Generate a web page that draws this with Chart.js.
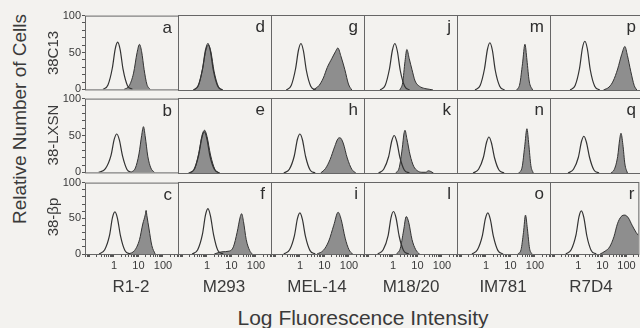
<!DOCTYPE html>
<html>
<head>
<meta charset="utf-8">
<script src="https://cdn.jsdelivr.net/npm/chart.js@4.4.0/dist/chart.umd.min.js"></script>
<style>
  body { margin:0; width:640px; height:328px; overflow:hidden; background:#f3f2ef; position:relative;
         font-family:"Liberation Sans", Arial, sans-serif; color:#3a3a3a; }
  canvas { position:absolute; }
  .lbl { position:absolute; white-space:nowrap; line-height:1; }
  .rot { transform:translate(-50%,-50%) rotate(-90deg); }
  .ctr { transform:translate(-50%,-50%); }
</style>
</head>
<body>
<script>
const rowNames = ['38C13', '38-LXSN', '38-\u03b2p'];
const colNames = ['R1-2', 'M293', 'MEL-14', 'M18/20', 'IM781', 'R7D4'];
const panelLetters = [
  ['a', 'd', 'g', 'j', 'm', 'p'],
  ['b', 'e', 'h', 'k', 'n', 'q'],
  ['c', 'f', 'i', 'l', 'o', 'r']
];
const xTicks = [0.07, 0.08, 0.09, 0.1, 0.2, 0.3, 0.4, 0.5, 0.6, 0.7, 0.8, 0.9,
  1, 2, 3, 4, 5, 6, 7, 8, 9, 10, 20, 30, 40, 50, 60, 70, 80, 90, 100, 200, 300, 400];
const xLabels = [1, 10, 100];
const yTicks = [0, 10, 20, 30, 40, 50, 60, 70, 80, 90, 100];
const yLabels = [0, 50, 100];

// histograms as [fluorescence, relative cells]; open = control, fill = stained
const aOpen = [[0.36,0],[0.57,6],[0.86,29],[1.13,55],[1.42,64],[1.79,54],[2.36,27],[3.57,5],[5.65,0]];
const aFill = [[2.6,0],[4.2,5],[6.3,22],[8.8,50],[11,61],[13.5,51],[17,27],[22,7],[30,0]];
const dOpen = [[0.28,0],[0.44,6],[0.66,28],[0.87,53],[1.1,62],[1.38,52],[1.83,26],[2.76,5],[4.38,0]];
const dFill = [[0.3,0],[0.45,6],[0.65,27],[0.9,53],[1.15,60],[1.45,51],[1.95,25],[2.9,5],[4.4,0]];
const gOpen = [[0.28,0],[0.44,6],[0.66,28],[0.87,53],[1.1,62],[1.39,52],[1.83,26],[2.76,5],[4.4,0]];
const gFill = [[3.4,0],[6,6],[9,16],[13,30],[20,42],[28,51],[35,56],[48,44],[68,27],[95,8],[130,0]];
const jOpen = [[0.3,0],[0.48,6],[0.72,28],[0.95,53],[1.2,62],[1.51,52],[1.99,26],[3.01,5],[4.78,0]];
const jFill = [[1.9,0],[2.5,10],[3.1,38],[3.7,54],[4.6,42],[6,27],[8,12],[12,5],[20,2],[30,1],[43,0]];
const mOpen = [[0.36,0],[0.58,6],[0.87,28],[1.15,54],[1.45,63],[1.83,53],[2.41,26],[3.64,5],[5.77,0]];
const mFill = [[18,0],[24,8],[31,35],[39,61],[47,40],[58,12],[80,0]];
const pOpen = [[0.44,0],[0.7,6],[1.06,29],[1.39,56],[1.75,65],[2.2,55],[2.9,27],[4.4,5],[7,0]];
const pFill = [[10,0],[17,4],[25,12],[38,28],[55,47],[75,58],[95,46],[130,25],[180,6],[230,0]];

const bOpen = [[0.24,0],[0.45,5],[0.76,23],[1.03,45],[1.3,52],[1.66,44],[2.25,22],[3.4,4],[5.2,0]];
const bFill = [[5,0],[7.5,6],[10.5,25],[13.5,50],[16,62],[19,48],[24,22],[32,6],[45,0]];
const eOpen = [[0.18,0],[0.3,5],[0.46,24],[0.62,47],[0.78,55],[0.99,46],[1.32,23],[2,5],[3.3,0]];
const eFill = [[0.2,0],[0.32,6],[0.46,26],[0.64,51],[0.8,57],[1,49],[1.4,24],[2.1,5],[3.2,0]];
const hOpen = [[0.22,0],[0.37,5],[0.59,23],[0.79,45],[1,52],[1.27,44],[1.7,22],[2.6,4],[4.2,0]];
const hFill = [[7,0],[11,6],[17,18],[26,35],[36,46],[43,47],[58,40],[85,20],[130,5],[190,0]];
const kOpen = [[0.26,0],[0.42,5],[0.67,22],[0.9,43],[1.13,50],[1.43,42],[1.92,21],[2.9,4],[4.7,0]];
const kFill = [[1.3,0],[1.8,7],[2.4,33],[2.8,52],[3.1,57],[3.7,46],[5,24],[7,9],[10,3],[15,1],[22,1],[28,3],[35,2],[45,0]];
const nOpen = [[0.3,0],[0.5,5],[0.79,21],[1.06,41],[1.33,48],[1.68,40],[2.25,20],[3.4,4],[5.5,0]];
const nFill = [[22,0],[30,8],[38,35],[47,59],[56,38],[68,10],[85,0]];
const qOpen = [[0.36,0],[0.6,5],[0.95,21],[1.27,42],[1.6,49],[2.02,41],[2.7,21],[4.1,4],[6.6,0]];
const qFill = [[20,0],[28,5],[38,22],[46,45],[52,53],[62,38],[75,12],[95,0]];

const cOpen = [[0.25,0],[0.42,6],[0.66,26],[0.87,51],[1.1,59],[1.39,50],[1.86,25],[2.8,5],[4.6,0]];
const cFill = [[4,0],[7,5],[11,20],[15,42],[19,55],[20.5,61],[22,54],[27,35],[35,12],[48,0]];
const fOpen = [[0.25,0],[0.42,6],[0.66,28],[0.87,54],[1.1,63],[1.39,53],[1.86,27],[2.8,5],[4.6,0]];
const fFill = [[2,0],[4,3],[8,4],[12,10],[17,30],[23,52],[26,56],[31,45],[40,20],[55,5],[70,0]];
const iOpen = [[0.22,0],[0.38,6],[0.6,26],[0.79,49],[1,57],[1.26,48],[1.69,24],[2.55,5],[4.2,0]];
const iFill = [[5,0],[9,5],[15,18],[24,40],[36,58],[48,48],[70,22],[100,6],[140,0]];
const lOpen = [[0.24,0],[0.4,6],[0.64,26],[0.84,51],[1.06,59],[1.34,50],[1.79,25],[2.7,5],[4.4,0]];
const lFill = [[1.4,0],[2,8],[2.7,32],[3.5,52],[4.4,44],[6,20],[8.5,6],[12,0]];
const oOpen = [[0.27,0],[0.45,6],[0.72,26],[0.95,49],[1.2,57],[1.51,48],[2.03,24],[3.05,5],[5,0]];
const oFill = [[20,0],[27,6],[34,30],[41,54],[49,35],[60,8],[75,0]];
const rOpen = [[0.3,0],[0.5,6],[0.8,27],[1.06,52],[1.33,60],[1.68,51],[2.25,25],[3.4,5],[5.5,0]];
const rFill = [[8,0],[13,4],[20,10],[30,24],[42,42],[60,52],[85,54],[120,50],[170,40],[250,30],[310,26]];

const curves = {
  a: [aOpen, aFill], d: [dOpen, dFill], g: [gOpen, gFill], j: [jOpen, jFill], m: [mOpen, mFill], p: [pOpen, pFill],
  b: [bOpen, bFill], e: [eOpen, eFill], h: [hOpen, hFill], k: [kOpen, kFill], n: [nOpen, nFill], q: [qOpen, qFill],
  c: [cOpen, cFill], f: [fOpen, fFill], i: [iOpen, iFill], l: [lOpen, lFill], o: [oOpen, oFill], r: [rOpen, rFill]
};

// panel boxes in page pixels; the last column is cut off by the page edge
const colLeft = [85, 178, 271, 364, 457, 550];
const colWidth = [93, 93, 93, 93, 93, 90];
const colMax = [410, 410, 410, 410, 410, 310];
const rowTop = [15, 98, 182];
const rowBottom = [90, 173, 254];
const FONT = '"Liberation Sans", Arial, sans-serif';
const INK = '#333';

const framePlugin = {
  id: 'frame',
  afterDatasetsDraw(chart, args, opts) {
    const { ctx, chartArea: a } = chart;
    ctx.save();
    ctx.strokeStyle = '#666';
    ctx.lineWidth = 1;
    ctx.strokeRect(a.left + 0.5, a.top + 0.5, a.right - a.left, a.bottom - a.top);
    ctx.fillStyle = '#2e2e2e';
    ctx.font = '17px ' + FONT;
    ctx.textAlign = 'right';
    ctx.fillText(opts.letter, opts.right ? a.right - 4 : a.right - 6, a.top + 17);
    ctx.restore();
  }
};

const pts = arr => arr.map(p => ({ x: p[0], y: p[1] }));

function addLabel(text, x, y, size, cls) {
  const d = document.createElement('div');
  d.className = 'lbl ' + cls;
  d.style.left = x + 'px';
  d.style.top = y + 'px';
  d.style.fontSize = size + 'px';
  d.textContent = text;
  document.body.appendChild(d);
}

for (let r = 0; r < 3; r++) {
  for (let c = 0; c < 6; c++) {
    const letter = panelLetters[r][c];
    const showY = c === 0, showX = r === 2;
    const last = c === 5;
    const padL = showY ? 32 : 2;
    const padR = last ? 0 : 2;
    const cv = document.createElement('canvas');
    cv.width = colWidth[c] + padL + padR;
    cv.height = (rowBottom[r] - rowTop[r]) + 7 + (showX ? 21 : 7);
    cv.style.left = (colLeft[c] - padL) + 'px';
    cv.style.top = (rowTop[r] - 7) + 'px';
    document.body.appendChild(cv);

    new Chart(cv, {
      type: 'line',
      data: {
        datasets: [
          { data: pts(curves[letter][0]), borderColor: INK, borderWidth: 1.2, fill: false,
            pointRadius: 0, cubicInterpolationMode: 'monotone' },
          { data: pts(curves[letter][1]), borderColor: INK, borderWidth: 1, backgroundColor: '#8e8e8e',
            fill: 'origin', pointRadius: 0, cubicInterpolationMode: 'monotone' }
        ]
      },
      options: {
        responsive: false,
        animation: false,
        devicePixelRatio: 1,
        layout: { autoPadding: false, padding: { left: 2, right: padR, top: 7, bottom: showX ? 1 : 7 } },
        plugins: { legend: { display: false }, tooltip: { enabled: false }, frame: { letter: letter, right: last } },
        scales: {
          x: {
            type: 'logarithmic', min: 0.066, max: colMax[c], display: showX,
            afterBuildTicks: s => { s.ticks = xTicks.filter(v => v <= colMax[c]).map(v => ({ value: v })); },
            afterFit: s => { if (showX) s.height = 20; },
            border: { display: false },
            grid: { drawOnChartArea: false, tickLength: 3, color: '#555' },
            ticks: { autoSkip: false, maxRotation: 0, padding: 2, color: '#3a3a3a',
                     font: { size: 11, family: FONT },
                     callback: v => xLabels.includes(v) ? String(v) : '' }
          },
          y: {
            min: 0, max: 100, display: showY,
            afterBuildTicks: s => { s.ticks = yTicks.map(v => ({ value: v })); },
            afterFit: s => { if (showY) s.width = 30; },
            border: { display: false },
            grid: { drawOnChartArea: false, tickLength: 3, color: '#555' },
            ticks: { autoSkip: false, padding: 1, color: '#3a3a3a',
                     font: { size: 11, family: FONT },
                     callback: v => yLabels.includes(v) ? String(v) : '' }
          }
        }
      },
      plugins: [framePlugin]
    });
  }
}

const rowCenters = [53, 135, 217];
rowNames.forEach((t, i) => addLabel(t, 52, rowCenters[i], 15, 'rot'));
const colCenters = [131, 224, 317, 411, 503, 591];
colNames.forEach((t, i) => addLabel(t, colCenters[i], 286, 17, 'ctr'));
addLabel('Relative Number of Cells', 19, 119, 19, 'rot');
addLabel('Log Fluorescence Intensity', 363, 317, 21, 'ctr');
</script>
</body>
</html>
